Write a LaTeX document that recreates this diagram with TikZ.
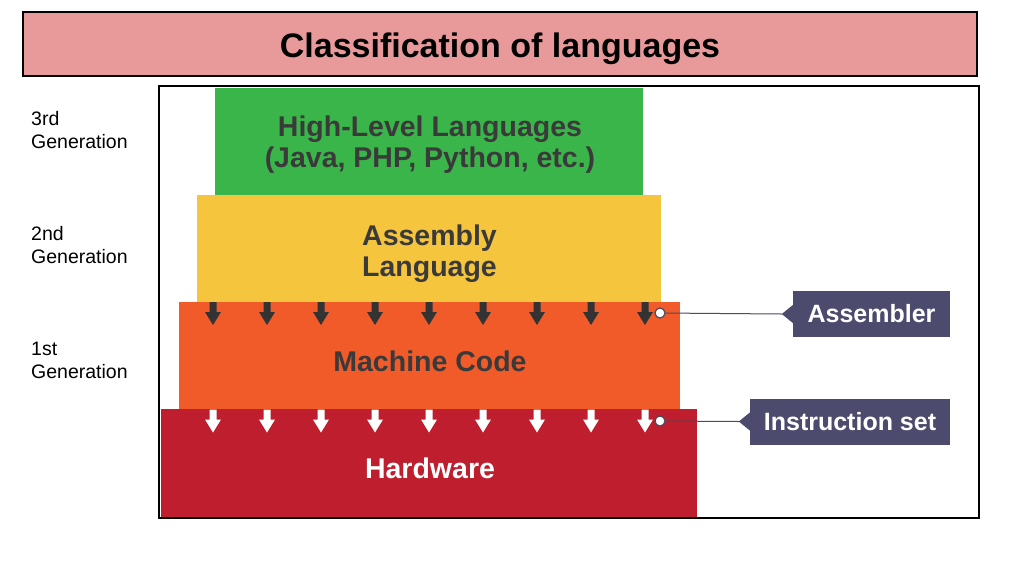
\documentclass[tikz,border=0pt]{standalone}
\usepackage{fontspec}
\setmainfont{Liberation Sans}
\definecolor{titlepink}{HTML}{E89A9A}
\definecolor{hlgreen}{HTML}{3AB54A}
\definecolor{asmyellow}{HTML}{F4C53D}
\definecolor{mcorange}{HTML}{F15A29}
\definecolor{hwred}{HTML}{BE1E2D}
\definecolor{txtgray}{HTML}{3A3A3A}
\definecolor{calloutc}{HTML}{4D4B6D}
\definecolor{arrdark}{HTML}{333333}
\definecolor{linegray}{HTML}{4A4A60}
\begin{document}
\begin{tikzpicture}[x=1pt,y=-1pt,
  blk/.style={draw=none, inner sep=0pt, outer sep=0pt},
  btext/.style={font=\bfseries\fontsize{28.5}{34}\selectfont, text=txtgray, anchor=base, inner sep=0pt},
  gen/.style={font=\fontsize{19.5}{23}\selectfont, anchor=base west, inner sep=0pt},
  callout/.style={fill=calloutc, text=white, font=\bfseries\fontsize{25}{30}\selectfont, inner sep=0pt},
  dot/.style={circle, fill=white, draw=linegray, line width=1.2pt, minimum size=10pt, inner sep=0pt},
  conn/.style={draw=linegray, line width=1pt},
  darr/.pic={\fill[pic actions] (-3.5,0) -- (3.5,0) -- (3.5,10) -- (8,10) -- (0,23) -- (-8,10) -- (-3.5,10) -- cycle;}
]
\useasboundingbox (0,0) rectangle (1024,576);
% title
\node[blk, fill=titlepink, draw=black, line width=2pt, minimum width=954pt, minimum height=64pt] (title) at (500,44) {};
\node[font=\bfseries\fontsize{34}{40}\selectfont, anchor=base, inner sep=0pt] (titletext) at (500,57) {Classification of languages};
% frame
\node[blk, draw=black, line width=2pt, minimum width=820pt, minimum height=432pt] (frame) at (569,302) {};
% blocks
\node[blk, fill=hlgreen, minimum width=428pt, minimum height=107pt] (hl) at (429,141.5) {};
\node[blk, fill=asmyellow, minimum width=464pt, minimum height=107pt] (asmb) at (429,248.5) {};
\node[blk, fill=mcorange, minimum width=501pt, minimum height=107pt] (mc) at (429.5,355.5) {};
\node[blk, fill=hwred, minimum width=536pt, minimum height=108pt] (hw) at (429,463) {};
% block texts
\node[btext] (hl1) at (430,136) {High-Level Languages};
\node[btext] (hl2) at (430,167) {(Java, PHP, Python, etc.)};
\node[btext, anchor=base west] (as1) at (362,245) {Assembly};
\node[btext, anchor=base west] (as2) at (362,276) {Language};
\node[btext] (mct) at (430,371) {Machine Code};
\node[btext, text=white] (hwt) at (430,478) {Hardware};
% arrows
\foreach \x in {213,267,321,375,429,483,537,591,645} {
  \pic[fill=arrdark] at (\x,302) {darr};
  \pic[fill=white] at (\x,409.5) {darr};
}
% generation labels
\node[gen] (g3a) at (31,125) {3rd};
\node[gen] (g3b) at (31,148) {Generation};
\node[gen] (g2a) at (31,240) {2nd};
\node[gen] (g2b) at (31,263) {Generation};
\node[gen] (g1a) at (31,355) {1st};
\node[gen] (g1b) at (31,378) {Generation};
% callouts
\node[callout, minimum width=157pt, minimum height=46pt] (asm) at (871.5,314) {Assembler};
\node[callout, minimum width=200pt, minimum height=46pt] (iset) at (850,421.5) {Instruction set};
\fill[calloutc] ([yshift=9pt]asm.west) -- ([xshift=-11pt]asm.west) -- ([yshift=-9pt]asm.west) -- cycle;
\fill[calloutc] ([yshift=9pt]iset.west) -- ([xshift=-11pt]iset.west) -- ([yshift=-9pt]iset.west) -- cycle;
\node[dot] (d1) at (660,313) {};
\node[dot] (d2) at (660,421) {};
\coordinate (t1) at ([xshift=-11pt]asm.west);
\coordinate (t2) at ([xshift=-11pt]iset.west);
\draw[conn] (d1) -- (t1);
\draw[conn] (d2) -- (t2);
\end{tikzpicture}
\end{document}
